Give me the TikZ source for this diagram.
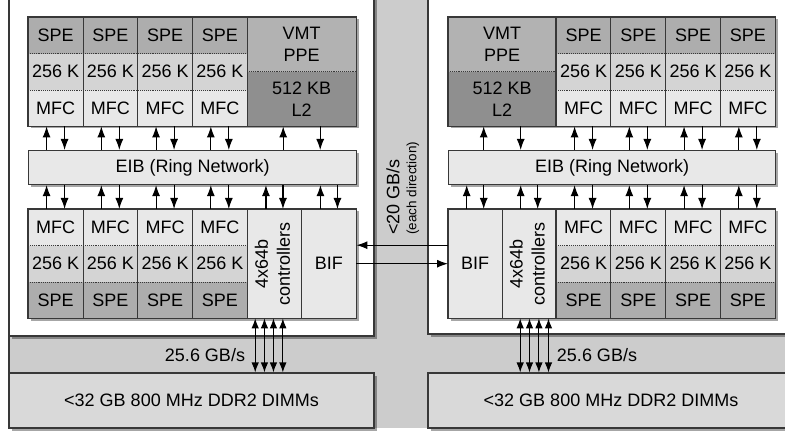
\documentclass[tikz,border=0pt]{standalone}
\usepackage{fontspec}
\setmainfont{Liberation Sans}
\usepackage{tikz}
\usetikzlibrary{arrows}
\usetikzlibrary{arrows.meta}
\usetikzlibrary{positioning}
\usetikzlibrary{shadows}

\definecolor{boardgray}{gray}{0.80}
\definecolor{spegray}{gray}{0.68}
\definecolor{lsgray}{gray}{0.83}
\definecolor{mfcgray}{gray}{0.91}
\definecolor{ppegray}{gray}{0.70}
\definecolor{ltwogray}{gray}{0.56}
\definecolor{dimmgray}{gray}{0.85}
\definecolor{edgegray}{gray}{0.22}

\tikzset{
  txt/.style={font=\fontsize{18}{22}\selectfont},
  cell/.style={txt,anchor=north west,inner sep=0pt,minimum width=54.75pt,minimum height=36.33pt},
  spe/.style={cell,fill=spegray},
  ls/.style={cell,fill=lsgray},
  mfc/.style={cell,fill=mfcgray},
  frame/.style={draw=edgegray,line width=1.1pt},
  sep/.style={draw=edgegray,densely dotted,line width=0.9pt},
  shadowed/.style={drop shadow={shadow xshift=2.5pt,shadow yshift=-2.5pt,fill=black,opacity=0.35}},
  link/.style={-{Latex[length=11pt,width=8pt]},line width=1.1pt},
  dlink/.style={{Latex[length=10pt,width=7.5pt]}-{Latex[length=10pt,width=7.5pt]},line width=1.1pt},
}

\begin{document}
\begin{tikzpicture}[x=1pt,y=-1pt]
    \useasboundingbox (0,0) rectangle (785,433);
    \clip (0,0) rectangle (785,433);
    \fill[boardgray] (9,0) rectangle (795,428);
    \draw[frame] (9,0) -- (9,428);
    \path[fill=white,frame,shadowed] (9,-5) rectangle (374,336);
    \path[fill=white,frame,shadowed] (428,-5) rectangle (795,334);

    \node[txt,fill=dimmgray,frame,shadowed,inner sep=0pt,minimum width=365pt,minimum height=55pt] (dimmL) at (191.5,400.5) {<32 GB 800 MHz DDR2 DIMMs};
    \node[txt,fill=dimmgray,frame,shadowed,inner sep=0pt,minimum width=366pt,minimum height=55pt] (dimmR) at (611,400.5) {<32 GB 800 MHz DDR2 DIMMs};

    \path[fill=white,shadowed] (28,17) rectangle (356,126);
    \foreach \i in {1,...,4} {
        \node[spe] (speLt\i) at ({28+(\i-1)*54.75},17) {SPE};
        \node[ls] (lsLt\i) at ({28+(\i-1)*54.75},53.33) {256 K};
        \node[mfc] (mfcLt\i) at ({28+(\i-1)*54.75},89.67) {MFC};
    }
    \node[cell,fill=ppegray,minimum width=109pt,minimum height=54.5pt,align=center] (ppeL) at (247,17) {VMT\\PPE};
    \node[cell,fill=ltwogray,minimum width=109pt,minimum height=54.5pt,align=center] (ltwoL) at (247,71.5) {512 KB\\L2};
    \draw[sep] (speLt1.south west) -- (speLt4.south east);
    \draw[sep] (lsLt1.south west) -- (lsLt4.south east);
    \draw[sep] (ppeL.south west) -- (ppeL.south east);
    \foreach \i in {1,...,4} \draw[frame] (speLt\i.north east) -- (mfcLt\i.south east);
    \draw[frame] (speLt1.north west) rectangle (ltwoL.south east);

    \path[fill=white,shadowed] (448,17) rectangle (775,126);
    \node[cell,fill=ppegray,minimum width=108pt,minimum height=54.5pt,align=center] (ppeR) at (448,17) {VMT\\PPE};
    \node[cell,fill=ltwogray,minimum width=108pt,minimum height=54.5pt,align=center] (ltwoR) at (448,71.5) {512 KB\\L2};
    \foreach \i in {1,...,4} {
        \node[spe] (speRt\i) at ({556+(\i-1)*54.75},17) {SPE};
        \node[ls] (lsRt\i) at ({556+(\i-1)*54.75},53.33) {256 K};
        \node[mfc] (mfcRt\i) at ({556+(\i-1)*54.75},89.67) {MFC};
    }
    \draw[sep] (speRt1.south west) -- (speRt4.south east);
    \draw[sep] (lsRt1.south west) -- (lsRt4.south east);
    \draw[sep] (ppeR.south west) -- (ppeR.south east);
    \foreach \i in {1,...,4} \draw[frame] (speRt\i.north west) -- (mfcRt\i.south west);
    \draw[frame] (ppeR.north west) rectangle (mfcRt4.south east);

    \node[txt,fill=mfcgray,frame,shadowed,anchor=north west,inner sep=0pt,minimum width=328pt,minimum height=34pt] (eibL) at (28,150) {EIB (Ring Network)};
    \node[txt,fill=mfcgray,frame,shadowed,anchor=north west,inner sep=0pt,minimum width=327pt,minimum height=34pt] (eibR) at (448,150) {EIB (Ring Network)};

    \path[fill=white,shadowed] (28,209) rectangle (356,318);
    \foreach \i in {1,...,4} {
        \node[mfc] (mfcLb\i) at ({28+(\i-1)*54.75},209) {MFC};
        \node[ls] (lsLb\i) at ({28+(\i-1)*54.75},245.33) {256 K};
        \node[spe] (speLb\i) at ({28+(\i-1)*54.75},281.67) {SPE};
    }
    \node[cell,fill=mfcgray,minimum width=54.5pt,minimum height=109pt] (ctrlL) at (247,209) {\rotatebox{90}{\begin{tabular}{@{}c@{}}4x64b\\controllers\end{tabular}}};
    \node[cell,fill=mfcgray,minimum width=54.5pt,minimum height=109pt] (bifL) at (301.5,209) {BIF};
    \draw[sep] (mfcLb1.south west) -- (mfcLb4.south east);
    \draw[sep] (lsLb1.south west) -- (lsLb4.south east);
    \foreach \i in {1,...,4} \draw[frame] (mfcLb\i.north east) -- (speLb\i.south east);
    \draw[frame] (ctrlL.north east) -- (ctrlL.south east);
    \draw[frame] (mfcLb1.north west) rectangle (bifL.south east);

    \path[fill=white,shadowed] (448,209) rectangle (775,318);
    \node[cell,fill=mfcgray,minimum width=54pt,minimum height=109pt] (bifR) at (448,209) {BIF};
    \node[cell,fill=mfcgray,minimum width=54pt,minimum height=109pt] (ctrlR) at (502,209) {\rotatebox{90}{\begin{tabular}{@{}c@{}}4x64b\\controllers\end{tabular}}};
    \foreach \i in {1,...,4} {
        \node[mfc] (mfcRb\i) at ({556+(\i-1)*54.75},209) {MFC};
        \node[ls] (lsRb\i) at ({556+(\i-1)*54.75},245.33) {256 K};
        \node[spe] (speRb\i) at ({556+(\i-1)*54.75},281.67) {SPE};
    }
    \draw[sep] (mfcRb1.south west) -- (mfcRb4.south east);
    \draw[sep] (lsRb1.south west) -- (lsRb4.south east);
    \foreach \i in {1,...,4} \draw[frame] (mfcRb\i.north west) -- (speRb\i.south west);
    \draw[frame] (bifR.north east) -- (bifR.south east);
    \draw[frame] (bifR.north west) rectangle (speRb4.south east);

    \foreach \i in {1,...,4} {
        \draw[link] ([xshift=-9pt]mfcLt\i.south |- eibL.north) -- ([xshift=-9pt]mfcLt\i.south);
        \draw[link] ([xshift=9pt]mfcLt\i.south) -- ([xshift=9pt]mfcLt\i.south |- eibL.north);
        \draw[link] ([xshift=-9pt]mfcLb\i.north) -- ([xshift=-9pt]mfcLb\i.north |- eibL.south);
        \draw[link] ([xshift=9pt]mfcLb\i.north |- eibL.south) -- ([xshift=9pt]mfcLb\i.north);
        \draw[link] ([xshift=-9pt]mfcRt\i.south |- eibR.north) -- ([xshift=-9pt]mfcRt\i.south);
        \draw[link] ([xshift=9pt]mfcRt\i.south) -- ([xshift=9pt]mfcRt\i.south |- eibR.north);
        \draw[link] ([xshift=-9pt]mfcRb\i.north) -- ([xshift=-9pt]mfcRb\i.north |- eibR.south);
        \draw[link] ([xshift=9pt]mfcRb\i.north |- eibR.south) -- ([xshift=9pt]mfcRb\i.north);
    }
    \foreach \n in {ltwoL,ltwoR} {
        \draw[link] ([xshift=-18.5pt]\n.south |- eibL.north) -- ([xshift=-18.5pt]\n.south);
        \draw[link] ([xshift=18.5pt]\n.south) -- ([xshift=18.5pt]\n.south |- eibL.north);
    }
    \foreach \n in {ctrlL,bifL,bifR,ctrlR} {
        \draw[link] ([xshift=-8.5pt]\n.north) -- ([xshift=-8.5pt]\n.north |- eibL.south);
        \draw[link] ([xshift=8.5pt]\n.north |- eibL.south) -- ([xshift=8.5pt]\n.north);
    }

    \foreach \s in {-19.25,-10,-1,8.4}
        \draw[dlink] ([xshift=\s pt]ctrlL.south) -- ([xshift=\s pt]ctrlL.south |- dimmL.north);
    \foreach \s in {-9,0.3,9.7,19.3}
        \draw[dlink] ([xshift=\s pt]ctrlR.south) -- ([xshift=\s pt]ctrlR.south |- dimmR.north);
    \node[txt] (bwL) at (205,355) {25.6 GB/s};
    \node[txt] (bwR) at (597,355) {25.6 GB/s};

    \path[link]
        ([yshift=18.5pt]bifR.west) edge ([yshift=18.5pt]bifL.east)
        (bifL.east) edge (bifR.west);
    \node[txt,rotate=90,anchor=west,inner sep=0pt] (rate) at (393,235) {<20 GB/s};
    \node[font=\fontsize{13.5}{16}\selectfont,rotate=90,anchor=west,inner sep=0pt] (rateNote) at (413,235) {(each direction)};
\end{tikzpicture}
\end{document}
